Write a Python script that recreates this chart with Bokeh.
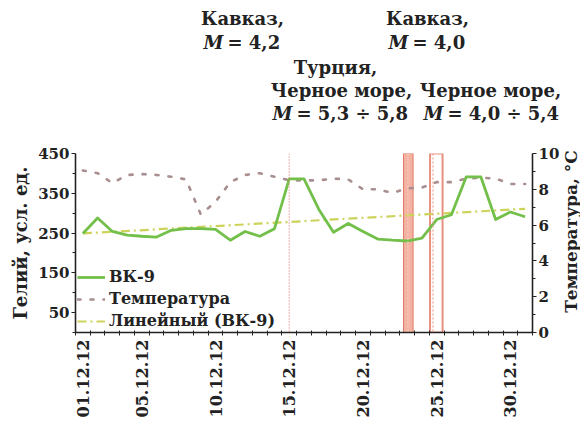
import math
from bokeh.plotting import figure
from bokeh.layouts import column, row
from bokeh.models import (Range1d, LinearAxis, FixedTicker, Legend, LegendItem,
                          ColumnDataSource, Span, Plot)
from bokeh.core.properties import value
from bokeh.embed import file_html
from bokeh.resources import INLINE

# ---------------- data ----------------
days = list(range(1, 32))
vk9 = [249, 288, 254, 245, 242, 240, 257, 261, 261, 259,
       232, 254, 242, 261, 386, 386, 310, 252, 274, 254,
       235, 232, 230, 237, 284, 296, 391, 391, 284, 303, 291]
temperature = [9.05, 8.9, 8.35, 8.8, 8.85, 8.8, 8.7, 8.55, 6.6, 7.3,
               8.4, 8.8, 8.9, 8.7, 8.5, 8.5, 8.5, 8.6, 8.55, 8.0,
               8.0, 7.8, 8.05, 8.1, 8.4, 8.4, 8.6, 8.65, 8.6, 8.3, 8.3]
trend_days = [1, 31]
trend_vals = [249, 311]

tick_days = [1, 5, 10, 15, 20, 25, 30]
tick_labels = ["01.12.12", "05.12.12", "10.12.12", "15.12.12",
               "20.12.12", "25.12.12", "30.12.12"]
left_ticks = [50, 150, 250, 350, 450]
right_ticks = [0, 2, 4, 6, 8, 10]

# events (day positions)
kavkaz_line_day = [15]
turkey_left = [22.75]
turkey_right = [23.4]
blacksea_left = [24.55]
blacksea_right = [25.4]
blacksea_inner = [24.75]

# annotation texts above the chart
plain_texts = ["Кавказ,", "Кавказ,", "Турция,", "Черное море,", "Черное море,"]
m_rest = ["= 4,2", "= 4,0", "= 5,3 ÷ 5,8", "= 4,0 ÷ 5,4"]
right_title = "Температура, °С"

FONT = "DejaVu Serif"
TXT = "#222222"
W = 580
TOP_H = 135
MAIN_H = 285
STRIP_W = 18
FS_TOP = "18px"
HAS_FRAME_ALIGN = "frame_align" in Plot.properties()


def bare(fig):
    fig.axis.visible = False
    fig.grid.visible = False
    fig.outline_line_color = None
    if HAS_FRAME_ALIGN:
        fig.frame_align = False


# ---------------- annotation strip ----------------
top = figure(width=W, height=TOP_H, output_backend="svg", toolbar_location=None,
             x_range=Range1d(0, W), y_range=Range1d(TOP_H, 0),
             min_border=0, min_border_left=0, min_border_right=0,
             min_border_top=0, min_border_bottom=0)
bare(top)

plain_x = [242, 427, 335, 341, 490]
plain_y = [18, 18, 67, 90, 90]
top.text(x=plain_x, y=plain_y, text=plain_texts, text_align="center",
         text_baseline="middle", text_font=value(FONT), text_font_style="bold",
         text_font_size=FS_TOP, text_color=TXT)
m_x = [203, 388, 272, 423]
m_y = [42, 42, 113, 113]
top.text(x=m_x, y=m_y, text=["M"] * len(m_x), text_align="left",
         text_baseline="middle", text_font=value(FONT),
         text_font_style="bold italic", text_font_size=FS_TOP, text_color=TXT)
top.text(x=[x + 24 for x in m_x], y=m_y, text=m_rest, text_align="left",
         text_baseline="middle", text_font=value(FONT), text_font_style="bold",
         text_font_size=FS_TOP, text_color=TXT)

# ---------------- main chart ----------------
p = figure(width=W - STRIP_W, height=MAIN_H, output_backend="svg", toolbar_location=None,
           x_range=Range1d(0.5, 31.5), y_range=Range1d(0, 450),
           min_border_left=75, min_border_right=W - STRIP_W - 533, min_border_top=18,
           min_border_bottom=83)
p.outline_line_color = None
p.grid.visible = False

p.extra_y_ranges = {"temp": Range1d(0, 10)}

# event markers
p.quad(left=turkey_left, right=turkey_right, bottom=[0], top=[450],
       fill_color="#f2a493", fill_alpha=0.85, line_color="#e07a68", line_width=1)
for d in turkey_left:
    p.add_layout(Span(location=d + 0.3, dimension="height", line_color="#fbd5cc",
                      line_dash="2 2", line_width=1))
p.quad(left=blacksea_left, right=blacksea_right, bottom=[0], top=[450],
       fill_color=None, line_color="#e8907e", line_width=2)
for d in blacksea_inner:
    p.add_layout(Span(location=d, dimension="height", line_color="#f0a090",
                      line_dash="2 2", line_width=1.2))
for d in kavkaz_line_day:
    p.add_layout(Span(location=d, dimension="height", line_color="#e87a7a",
                      line_dash="1 2", line_width=1.2))

src = ColumnDataSource(dict(x=days, vk9=vk9, t=temperature))
r_trend = p.line(trend_days, trend_vals, line_color="#cdd35a", line_width=2.2,
                 line_dash="9 4 2 4")
r_temp = p.line("x", "t", source=src, y_range_name="temp", line_color="#a88e8e",
                line_width=2.6, line_dash="3 10", line_cap="round")
r_vk = p.line("x", "vk9", source=src, line_color="#72c04a", line_width=2.8,
              line_join="round")

# axes
xa = p.xaxis[0]
xa.ticker = FixedTicker(ticks=tick_days, minor_ticks=[d + 0.5 for d in range(0, 32)])
xa.major_label_overrides = {d: l for d, l in zip(tick_days, tick_labels)}
xa.major_label_orientation = math.pi / 2
xa.major_tick_out = 0
xa.major_tick_in = 0
xa.minor_tick_out = 3
xa.minor_tick_in = 2
xa.major_label_standoff = 4

ya = p.yaxis[0]
ya.ticker = FixedTicker(ticks=left_ticks, minor_ticks=[0, 100, 200, 300, 400])
ya.axis_label = "Гелий, усл. ед."
ya.major_tick_out = 4
ya.major_tick_in = 0
ya.minor_tick_out = 3
ya.minor_tick_in = 0
ya.axis_label_standoff = 4
ya.major_label_standoff = 2

ra = LinearAxis(y_range_name="temp", ticker=FixedTicker(ticks=right_ticks,
                minor_ticks=[1, 3, 5, 7, 9]))
ra.major_tick_out = 4
ra.major_tick_in = 0
ra.minor_tick_out = 3
ra.minor_tick_in = 0
ra.major_label_standoff = 2
p.add_layout(ra, "right")

for ax in (xa, ya, ra):
    ax.major_label_text_font = FONT
    ax.major_label_text_font_style = "bold"
    ax.major_label_text_font_size = "15px"
    ax.major_label_text_color = TXT
    ax.axis_label_text_font = FONT
    ax.axis_label_text_font_style = "bold"
    ax.axis_label_text_font_size = "18px"
    ax.axis_label_text_color = TXT
    ax.axis_line_color = TXT
    ax.axis_line_width = 1.6
    ax.major_tick_line_color = TXT
    ax.minor_tick_line_color = TXT
xa.major_label_text_font_size = "16px"

# legend
legend = Legend(items=[LegendItem(label="ВК-9", renderers=[r_vk]),
                       LegendItem(label="Температура", renderers=[r_temp]),
                       LegendItem(label="Линейный (ВК-9)", renderers=[r_trend])],
                location=(2, 2), border_line_color=None, background_fill_alpha=0.0,
                label_text_font=FONT, label_text_font_style="bold",
                label_text_font_size="16px", label_text_color=TXT,
                glyph_width=28, glyph_height=18, label_height=18, spacing=3,
                padding=2, margin=0, label_standoff=4)
p.add_layout(legend, "center")

# ---------------- right axis title strip (reads bottom to top) ----------------
strip = figure(width=STRIP_W, height=MAIN_H, output_backend="svg", toolbar_location=None,
               x_range=Range1d(0, STRIP_W), y_range=Range1d(0, MAIN_H),
               min_border=0, min_border_left=0, min_border_right=0,
               min_border_top=0, min_border_bottom=0)
bare(strip)
strip.text(x=[8.5], y=[MAIN_H - (231 - TOP_H)], text=[right_title], angle=math.pi / 2,
           text_align="center", text_baseline="middle", text_font=value(FONT),
           text_font_style="bold", text_font_size="17px", text_color=TXT)

layout = column(top, row(p, strip, spacing=0), spacing=0)
open("out.html", "w").write(file_html(layout, INLINE))
